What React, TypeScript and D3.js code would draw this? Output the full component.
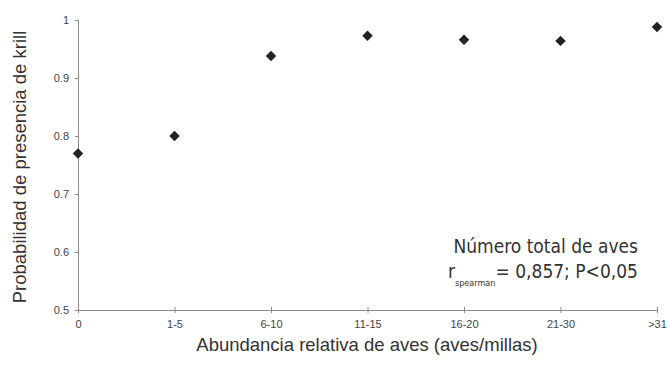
import React, { useEffect, useRef } from 'react';
import * as d3 from 'd3';

const categories = ['0', '1-5', '6-10', '11-15', '16-20', '21-30', '>31'];
const probabilidad = [0.77, 0.8, 0.938, 0.973, 0.966, 0.964, 0.988];
const yTicks = [0.5, 0.6, 0.7, 0.8, 0.9, 1];

const App = () => {
  const ref = useRef<SVGSVGElement>(null);

  const width = 669;
  const height = 370;
  const margin = { top: 20, right: 12, bottom: 60, left: 78 };

  useEffect(() => {
    const svg = d3.select(ref.current);
    svg.selectAll('*').remove();

    const x = d3.scalePoint<string>()
      .domain(categories)
      .range([margin.left, width - margin.right]);

    const y = d3.scaleLinear()
      .domain([0.5, 1])
      .range([height - margin.bottom, margin.top]);

    const axisColor = '#8a8a8a';

    // y axis
    const yAxis = svg.append('g')
      .attr('transform', `translate(${margin.left},0)`)
      .call(d3.axisLeft(y).tickValues(yTicks).tickSize(3).tickPadding(6)
        .tickFormat((d) => (d === 1 ? '1' : d3.format('.1f')(d as number))));
    yAxis.select('.domain').attr('stroke', axisColor);
    yAxis.selectAll('.tick line').attr('stroke', axisColor);
    yAxis.selectAll('.tick text')
      .attr('font-family', 'Arial, "Liberation Sans", sans-serif')
      .attr('font-size', 11)
      .attr('fill', '#444');

    // x axis
    const xAxis = svg.append('g')
      .attr('transform', `translate(0,${height - margin.bottom})`)
      .call(d3.axisBottom(x).tickSize(3).tickPadding(7).tickSizeOuter(0));
    xAxis.select('.domain').attr('stroke', axisColor);
    xAxis.selectAll('.tick line').attr('stroke', axisColor).attr('y1', -3);
    xAxis.selectAll('.tick text')
      .attr('font-family', 'Arial, "Liberation Sans", sans-serif')
      .attr('font-size', 11)
      .attr('fill', '#444');

    // points (diamonds)
    svg.append('g')
      .selectAll('path')
      .data(categories)
      .enter().append('path')
      .attr('d', d3.symbol(d3.symbolDiamond2, 70)())
      .attr('transform', (d, i) => `translate(${x(d)},${y(probabilidad[i])})`)
      .attr('fill', '#222');

    // axis titles
    svg.append('text')
      .attr('transform', `translate(26,${(margin.top + height - margin.bottom) / 2 + 2}) rotate(-90)`)
      .attr('text-anchor', 'middle')
      .attr('font-family', 'Arial, "Liberation Sans", sans-serif')
      .attr('font-size', 18.5)
      .attr('fill', '#333')
      .text('Probabilidad de presencia de krill');

    svg.append('text')
      .attr('x', 367)
      .attr('y', 351)
      .attr('text-anchor', 'middle')
      .attr('font-family', 'Arial, "Liberation Sans", sans-serif')
      .attr('font-size', 18.5)
      .attr('fill', '#333')
      .text('Abundancia relativa de aves (aves/millas)');

    // annotation
    const note = svg.append('g')
      .attr('font-family', '"Liberation Sans Narrow", "Arial Narrow", "DejaVu Sans Condensed", sans-serif')
      .attr('fill', '#333');
    note.append('text')
      .attr('x', 638)
      .attr('y', 253)
      .attr('text-anchor', 'end')
      .attr('font-size', 19)
      .text('Número total de aves');
    const line2 = note.append('text')
      .attr('x', 638)
      .attr('y', 278)
      .attr('text-anchor', 'end')
      .attr('font-size', 19);
    line2.append('tspan').text('r');
    line2.append('tspan').attr('font-size', 9).attr('dy', 8).text('spearman');
    line2.append('tspan').attr('dy', -8).text('= 0,857; P<0,05');
  }, []);

  return (
    <svg
      ref={ref}
      width={width}
      height={height}
      style={{ position: 'absolute', left: 0, top: 0, background: '#fff' }}
    />
  );
};

export default App;
